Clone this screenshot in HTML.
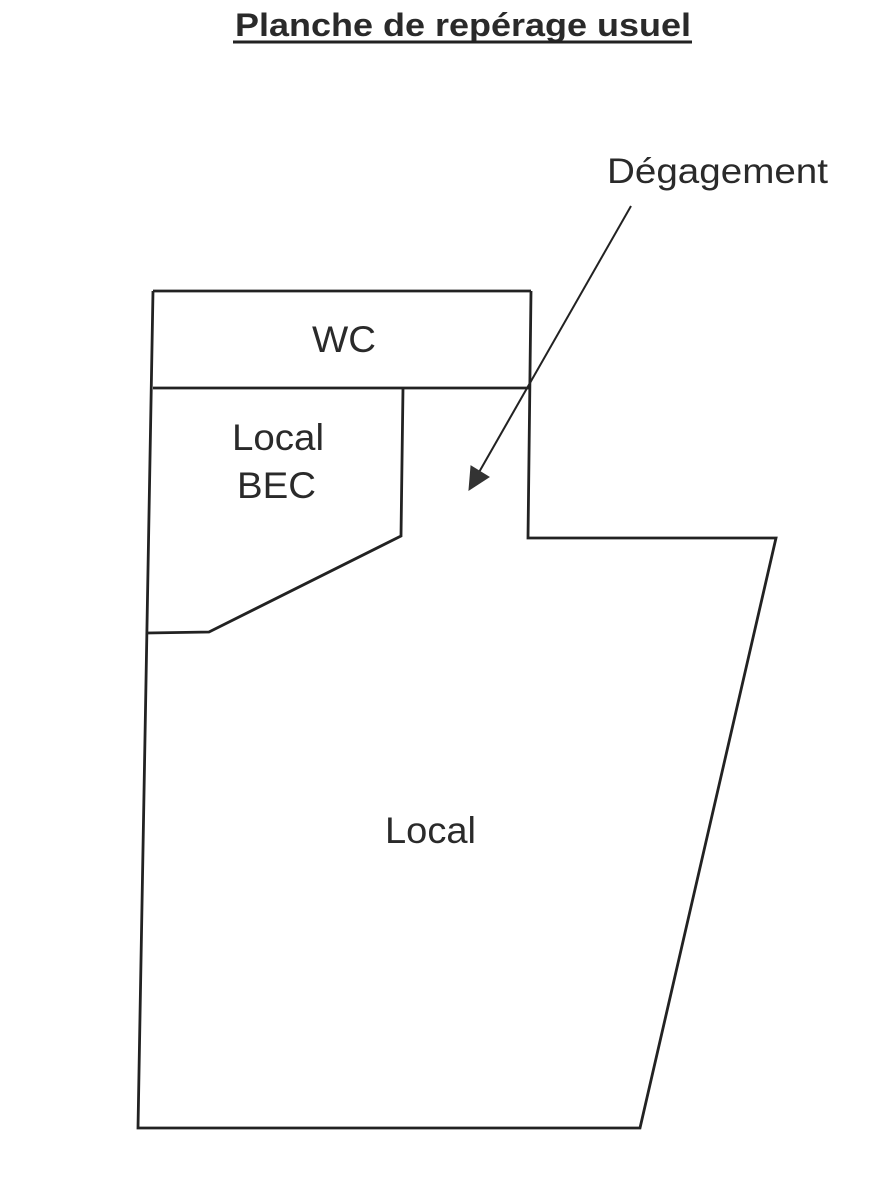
<!DOCTYPE html>
<html>
<head>
<meta charset="utf-8">
<style>
  html,body{margin:0;padding:0;background:#fff;}
  svg{display:block;}
  text{font-family:"Liberation Sans", Arial, sans-serif; fill:#2a2a2a;}
</style>
</head>
<body>
<svg width="886" height="1200" viewBox="0 0 886 1200" xmlns="http://www.w3.org/2000/svg">
  <!-- Title -->
  <text x="235" y="36" font-size="32" font-weight="bold" textLength="456" lengthAdjust="spacingAndGlyphs">Planche de repérage usuel</text>
  <line x1="233" y1="42" x2="692" y2="42" stroke="#222" stroke-width="3"/>

  <g fill="none" stroke="#222" stroke-width="2.8" stroke-linejoin="miter">
    <!-- WC box top -->
    <line x1="153" y1="291" x2="531" y2="291"/>
    <!-- WC bottom -->
    <line x1="153" y1="388" x2="531" y2="388"/>
    <!-- Right wall of WC and degagement, outer outline -->
    <polyline points="531,291 528,538 776,538 640,1128 138,1128 153,291"/>
    <!-- Local BEC -->
    <polyline points="403,388 401,536 209,632 147,633"/>
  </g>

  <!-- Arrow -->
  <line x1="631" y1="206" x2="478" y2="474" stroke="#222" stroke-width="2"/>
  <polygon points="469,490 471,466 489,477" fill="#333" stroke="#333" stroke-width="1"/>

  <!-- Labels -->
  <text x="607" y="183" font-size="35" textLength="221" lengthAdjust="spacingAndGlyphs">Dégagement</text>
  <text x="312" y="352" font-size="37" textLength="64" lengthAdjust="spacingAndGlyphs">WC</text>
  <text x="232" y="450" font-size="37" textLength="92" lengthAdjust="spacingAndGlyphs">Local</text>
  <text x="237" y="498" font-size="37" textLength="79" lengthAdjust="spacingAndGlyphs">BEC</text>
  <text x="385" y="843" font-size="37" textLength="91" lengthAdjust="spacingAndGlyphs">Local</text>
</svg>
</body>
</html>
